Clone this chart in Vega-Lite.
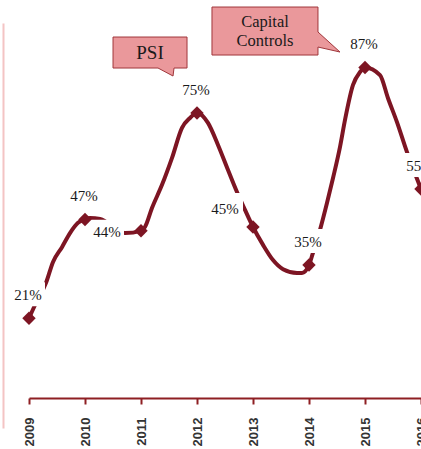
{
  "$schema": "https://vega.github.io/schema/vega-lite/v6.json",
  "width": 392,
  "height": 405,
  "autosize": "none",
  "padding": {"left": 29, "top": 23, "right": 0, "bottom": 21},
  "background": "white",
  "config": {"view": {"stroke": null}},
  "datasets": {
    "points": [
      {"year": 2009, "value": 21, "label": "21%"},
      {"year": 2010, "value": 47, "label": "47%"},
      {"year": 2011, "value": 44, "label": "44%"},
      {"year": 2012, "value": 75, "label": "75%"},
      {"year": 2013, "value": 45, "label": "45%"},
      {"year": 2014, "value": 35, "label": "35%"},
      {"year": 2015, "value": 87, "label": "87%"},
      {"year": 2016, "value": 55, "label": "55%"}
    ],
    "trace": [
      {"year": 2009, "value": 21},
      {"year": 2009.125, "value": 25.0},
      {"year": 2009.304, "value": 30.3},
      {"year": 2009.429, "value": 35.8},
      {"year": 2009.589, "value": 39.7},
      {"year": 2009.732, "value": 43.4},
      {"year": 2009.875, "value": 46.1},
      {"year": 2010, "value": 47},
      {"year": 2010.089, "value": 47.4},
      {"year": 2010.268, "value": 47.1},
      {"year": 2010.714, "value": 43.4},
      {"year": 2011, "value": 44},
      {"year": 2011.071, "value": 45.0},
      {"year": 2011.196, "value": 50.0},
      {"year": 2011.375, "value": 56.1},
      {"year": 2011.554, "value": 63.2},
      {"year": 2011.732, "value": 71.1},
      {"year": 2011.875, "value": 73.7},
      {"year": 2012, "value": 75},
      {"year": 2012.196, "value": 72.4},
      {"year": 2012.375, "value": 66.6},
      {"year": 2012.554, "value": 60.0},
      {"year": 2012.714, "value": 54.2},
      {"year": 2012.857, "value": 49.5},
      {"year": 2013, "value": 45},
      {"year": 2013.179, "value": 40.3},
      {"year": 2013.357, "value": 36.3},
      {"year": 2013.536, "value": 33.9},
      {"year": 2013.786, "value": 32.9},
      {"year": 2013.875, "value": 32.9},
      {"year": 2014, "value": 35},
      {"year": 2014.071, "value": 38.2},
      {"year": 2014.196, "value": 44.2},
      {"year": 2014.321, "value": 51.3},
      {"year": 2014.429, "value": 57.9},
      {"year": 2014.554, "value": 66.1},
      {"year": 2014.643, "value": 73.2},
      {"year": 2014.786, "value": 82.4},
      {"year": 2014.911, "value": 85.8},
      {"year": 2015, "value": 87},
      {"year": 2015.268, "value": 85.0},
      {"year": 2015.411, "value": 78.9},
      {"year": 2015.571, "value": 72.6},
      {"year": 2015.75, "value": 64.7},
      {"year": 2016, "value": 55}
    ],
    "callouts": [
      {"year": 2011.161, "value": 90.93, "text": "PSI"},
      {"year": 2013.214, "value": 96.59, "text": "Capital\nControls"}
    ]
  },
  "encoding": {
    "x": {
      "field": "year",
      "type": "quantitative",
      "scale": {"domain": [2009, 2016], "nice": false, "zero": false},
      "axis": {
        "values": [2009, 2010, 2011, 2012, 2013, 2014, 2015, 2016],
        "format": "d",
        "title": null,
        "grid": false,
        "offset": -30,
        "labelAngle": -90,
        "labelFont": "Liberation Sans",
        "labelFontSize": 13,
        "labelFontWeight": "bold",
        "labelColor": "#333333",
        "labelPadding": 13,
        "labelFlush": false,
        "labelOverlap": false,
        "labelBound": false,
        "domainColor": "#8E1F23",
        "domainWidth": 2,
        "tickColor": "#8E1F23",
        "tickWidth": 2,
        "tickSize": 6
      }
    },
    "y": {
      "field": "value",
      "type": "quantitative",
      "scale": {"domain": [-7.9, 98.7], "nice": false, "zero": false},
      "axis": {
        "title": null,
        "grid": false,
        "ticks": false,
        "labels": false,
        "offset": 26,
        "domainColor": "#F4C4C4",
        "domainWidth": 2
      }
    }
  },
  "layer": [
    {
      "data": {"name": "trace"},
      "mark": {"type": "line", "interpolate": "monotone", "color": "#7D1523", "strokeWidth": 4, "strokeCap": "round", "strokeJoin": "round"}
    },
    {
      "data": {"name": "points"},
      "transform": [{"filter": "datum.year != 2011 && datum.year != 2013"}],
      "mark": {"type": "point", "shape": "M-19,-36L16,-36L16,-12L-19,-12Z", "size": 4, "filled": true, "fill": "white", "opacity": 1, "strokeWidth": 0}
    },
    {
      "data": {"name": "points"},
      "transform": [{"filter": "datum.year == 2011"}],
      "mark": {"type": "point", "shape": "M-51,-11L-17,-11L-17,12L-51,12Z", "size": 4, "filled": true, "fill": "white", "opacity": 1, "strokeWidth": 0}
    },
    {
      "data": {"name": "points"},
      "transform": [{"filter": "datum.year == 2013"}],
      "mark": {"type": "point", "shape": "M-45,-34L-10,-34L-10,-5L-45,-5Z", "size": 4, "filled": true, "fill": "white", "opacity": 1, "strokeWidth": 0}
    },
    {
      "data": {"name": "points"},
      "mark": {"type": "point", "shape": "diamond", "size": 180, "filled": true, "color": "#7D1523", "opacity": 1}
    },
    {
      "data": {"name": "points"},
      "transform": [{"filter": "datum.year != 2011 && datum.year != 2013"}],
      "mark": {"type": "text", "font": "Liberation Serif", "fontSize": 15, "color": "#1a1a1a", "dx": -1, "dy": -23, "baseline": "middle", "align": "center"},
      "encoding": {"text": {"field": "label", "type": "nominal"}}
    },
    {
      "data": {"name": "points"},
      "transform": [{"filter": "datum.year == 2011"}],
      "mark": {"type": "text", "font": "Liberation Serif", "fontSize": 15, "color": "#1a1a1a", "dx": -34, "dy": 1.5, "baseline": "middle", "align": "center"},
      "encoding": {"text": {"field": "label", "type": "nominal"}}
    },
    {
      "data": {"name": "points"},
      "transform": [{"filter": "datum.year == 2013"}],
      "mark": {"type": "text", "font": "Liberation Serif", "fontSize": 15, "color": "#1a1a1a", "dx": -28, "dy": -18.5, "baseline": "middle", "align": "center"},
      "encoding": {"text": {"field": "label", "type": "nominal"}}
    },
    {
      "data": {"name": "callouts"},
      "transform": [{"filter": "datum.text == 'PSI'"}],
      "mark": {"type": "point", "shape": "M-37,-15.5L37,-15.5L37,15.5L24,15.5L23,23.5L8,15.5L-37,15.5Z", "size": 4, "filled": true, "fill": "#EA989B", "stroke": "#A0363B", "strokeWidth": 1, "opacity": 1}
    },
    {
      "data": {"name": "callouts"},
      "transform": [{"filter": "datum.text != 'PSI'"}],
      "mark": {"type": "point", "shape": "M-53,-24L53,-24L53,1L75,21L53,16L53,24L-53,24Z", "size": 4, "filled": true, "fill": "#EA989B", "stroke": "#A0363B", "strokeWidth": 1, "opacity": 1}
    },
    {
      "data": {"name": "callouts"},
      "transform": [{"filter": "datum.text == 'PSI'"}],
      "mark": {"type": "text", "font": "Liberation Serif", "fontSize": 19, "color": "#1a1a1a", "baseline": "middle", "align": "center"},
      "encoding": {"text": {"field": "text", "type": "nominal"}}
    },
    {
      "data": {"name": "callouts"},
      "transform": [{"filter": "datum.text != 'PSI'"}],
      "mark": {"type": "text", "font": "Liberation Serif", "fontSize": 16.5, "lineHeight": 19, "lineBreak": "\n", "dy": -9, "color": "#1a1a1a", "baseline": "middle", "align": "center"},
      "encoding": {"text": {"field": "text", "type": "nominal"}}
    }
  ]
}
